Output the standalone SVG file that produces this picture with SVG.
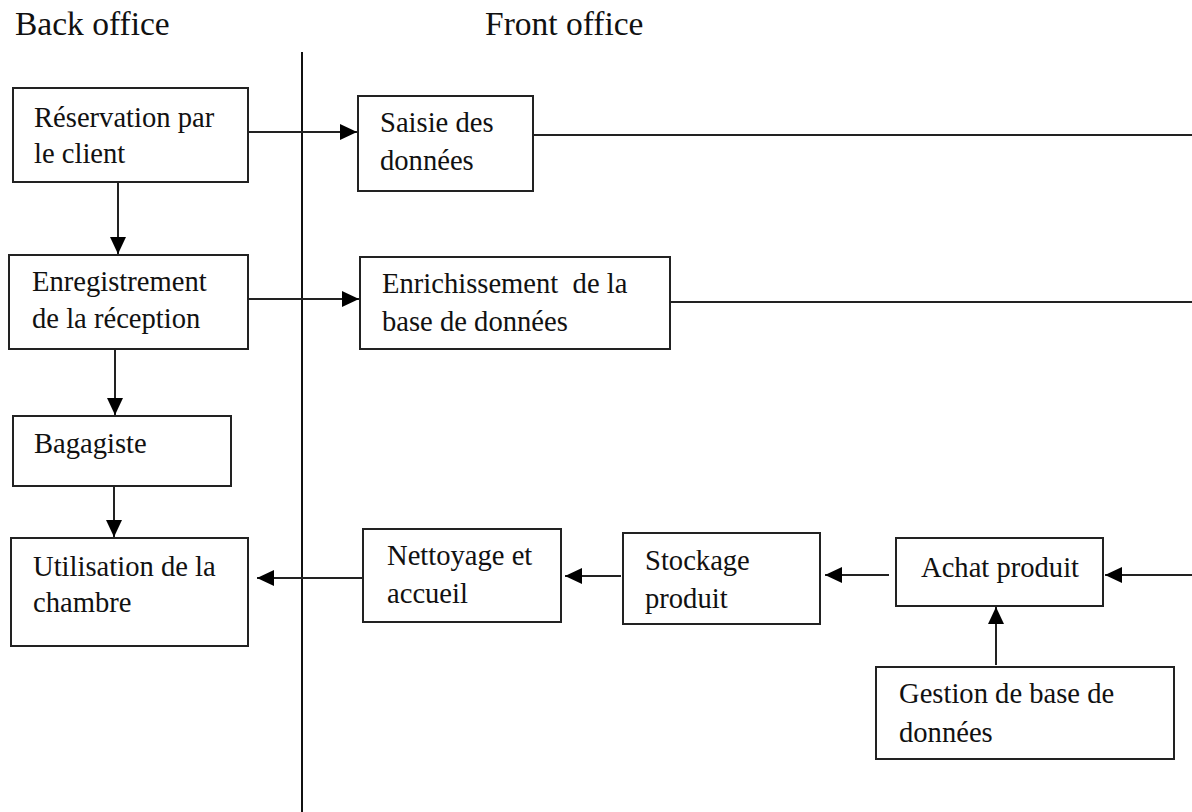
<svg xmlns="http://www.w3.org/2000/svg" width="1192" height="812" viewBox="0 0 1192 812">
<style>
text{font-family:"Liberation Serif","Times New Roman",serif;font-size:28.6px;fill:#111;white-space:pre}
.hdr{font-size:33.5px}
.box{fill:#fff;stroke:#222;stroke-width:2}
.con{stroke:#222;stroke-width:2;fill:none}
</style>
<defs>
<marker id="ah" markerUnits="userSpaceOnUse" markerWidth="17" markerHeight="16" refX="17" refY="8" orient="auto">
<path d="M0,0 L17,8 L0,16 z" fill="#000"/>
</marker>
</defs>
<rect width="1192" height="812" fill="#fff"/>
<text class="hdr" x="15" y="35">Back office</text>
<text class="hdr" x="485" y="35">Front office</text>
<line x1="302" y1="52" x2="302" y2="812" stroke="#111" stroke-width="2"/>
<g id="connectors">
<line class="con" x1="248" y1="132" x2="357" y2="132" marker-end="url(#ah)"/>
<line class="con" x1="533" y1="135" x2="1192" y2="135"/>
<line class="con" x1="118" y1="182" x2="118" y2="254" marker-end="url(#ah)"/>
<line class="con" x1="248" y1="299" x2="359" y2="299" marker-end="url(#ah)"/>
<line class="con" x1="670" y1="302" x2="1192" y2="302"/>
<line class="con" x1="115" y1="349" x2="115" y2="415" marker-end="url(#ah)"/>
<line class="con" x1="114" y1="486" x2="114" y2="537" marker-end="url(#ah)"/>
<line class="con" x1="362" y1="578" x2="257" y2="578" marker-end="url(#ah)"/>
<line class="con" x1="621" y1="576" x2="565" y2="576" marker-end="url(#ah)"/>
<line class="con" x1="889" y1="575" x2="825" y2="575" marker-end="url(#ah)"/>
<line class="con" x1="1192" y1="575" x2="1105" y2="575" marker-end="url(#ah)"/>
<line class="con" x1="996" y1="665" x2="996" y2="607" marker-end="url(#ah)"/>
</g>
<g id="reservation"><rect class="box" x="13" y="88" width="235" height="94"/><text x="34" y="127">Réservation par</text><text x="34" y="163">le client</text></g>
<g id="saisie"><rect class="box" x="358" y="96" width="175" height="95"/><text x="380" y="132">Saisie des</text><text x="380" y="170">données</text></g>
<g id="enregistrement"><rect class="box" x="9" y="255" width="239" height="94"/><text x="32" y="291">Enregistrement</text><text x="32" y="328">de la réception</text></g>
<g id="enrichissement"><rect class="box" x="360" y="257" width="310" height="92"/><text x="382" y="293">Enrichissement  de la</text><text x="382" y="331">base de données</text></g>
<g id="bagagiste"><rect class="box" x="13" y="416" width="218" height="70"/><text x="34" y="453">Bagagiste</text></g>
<g id="utilisation"><rect class="box" x="11" y="538" width="237" height="108"/><text x="33" y="576">Utilisation de la</text><text x="33" y="612">chambre</text></g>
<g id="nettoyage"><rect class="box" x="363" y="529" width="198" height="93"/><text x="387" y="565">Nettoyage et</text><text x="387" y="603">accueil</text></g>
<g id="stockage"><rect class="box" x="623" y="533" width="197" height="91"/><text x="645" y="570">Stockage</text><text x="645" y="608">produit</text></g>
<g id="achat"><rect class="box" x="896" y="538" width="207" height="68"/><text x="921" y="577">Achat produit</text></g>
<g id="gestion"><rect class="box" x="876" y="667" width="298" height="92"/><text x="899" y="703">Gestion de base de</text><text x="899" y="742">données</text></g>
</svg>
